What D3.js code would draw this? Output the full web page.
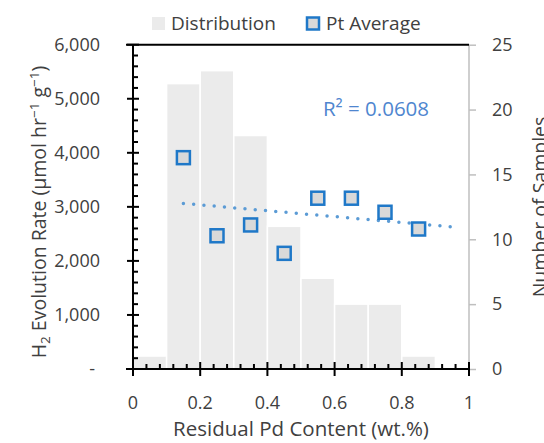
<!DOCTYPE html>
<html><head><meta charset="utf-8">
<script src="https://cdn.jsdelivr.net/npm/d3@7"></script>
<style>body{margin:0;background:#fff}svg{display:block}text{font-family:"Open Sans","Liberation Sans",sans-serif;fill:#404040}</style>
</head><body><svg id="c" width="544" height="443"></svg>
<script>
const binStarts = [0, 0.1, 0.2, 0.3, 0.4, 0.5, 0.6, 0.7, 0.8];
const binCounts = [1, 22, 23, 18, 11, 7, 5, 5, 1];
const ptX = [0.15, 0.25, 0.35, 0.45, 0.55, 0.65, 0.75, 0.85];
const ptRate = [3910, 2465, 2665, 2140, 3160, 3160, 2900, 2590];
const leftTicks = [0, 1000, 2000, 3000, 4000, 5000, 6000];
const rightTicks = [0, 5, 10, 15, 20, 25];
const xTicks = [0, 0.2, 0.4, 0.6, 0.8, 1];
const r2Label = "R² = 0.0608";

const svg = d3.select("#c");
const L = 133, R = 469, T = 44.7, B = 369;
const x = d3.scaleLinear().domain([0, 1]).range([L, R]);
const yL = d3.scaleLinear().domain([0, 6000]).range([B, T]);
const yR = d3.scaleLinear().domain([0, 25]).range([B, T]);
const tickFS = 18, legFS = 19, titleFS = 20.5, yTitleFS = 19.5;

// bars
svg.append("g").selectAll("rect").data(binStarts).join("rect")
  .attr("x", d => x(d)).attr("width", d => x(d + 0.1) - x(d))
  .attr("y", (d, i) => yR(binCounts[i])).attr("height", (d, i) => B - yR(binCounts[i]))
  .attr("fill", "#ebebeb").attr("stroke", "#fff").attr("stroke-width", 1.5);

// right axis
const gR = svg.append("g").attr("transform", `translate(${R},0)`)
  .call(d3.axisRight(yR).tickValues(rightTicks).tickSize(7).tickPadding(16).tickFormat(d3.format("d")));
gR.selectAll("path,line").attr("stroke", "#bfbfbf").attr("stroke-width", 1.5);
gR.select(".domain").attr("d", `M0,${T}V${B}`);
gR.selectAll("text").attr("font-size", tickFS).attr("fill", "#404040").style("font-family", "Open Sans");

// top line
svg.append("line").attr("x1", L - 7).attr("x2", R).attr("y1", T).attr("y2", T)
  .attr("stroke", "#000").attr("stroke-width", 2);

// left axis
const gL = svg.append("g").attr("transform", `translate(${L},0)`);
gL.append("line").attr("y1", T).attr("y2", B + 7).attr("stroke", "#000").attr("stroke-width", 2);
gL.selectAll(".minor").data(d3.range(0, 6001, 200).filter(v => v % 1000 !== 0)).join("line")
  .attr("x1", 0).attr("x2", 5).attr("y1", d => yL(d)).attr("y2", d => yL(d))
  .attr("stroke", "#000").attr("stroke-width", 2);
gL.selectAll(".major").data(leftTicks).join("line")
  .attr("x1", -6).attr("x2", 6).attr("y1", d => yL(d)).attr("y2", d => yL(d))
  .attr("stroke", "#000").attr("stroke-width", 2);
const fmt = d3.format(",");
gL.selectAll("text").data(leftTicks).join("text")
  .attr("x", d => d === 0 ? -38 : -33).attr("y", d => yL(d)).attr("dy", "0.35em")
  .attr("text-anchor", "end").attr("font-size", tickFS)
  .text(d => d === 0 ? "-" : fmt(d));

// x axis
const gX = svg.append("g").attr("transform", `translate(0,${B})`);
gX.append("line").attr("x1", L - 7).attr("x2", R).attr("stroke", "#000").attr("stroke-width", 2);
gX.selectAll(".minor").data(d3.range(0, 26).map(i => i * 0.04).filter((v, i) => i % 5 !== 0)).join("line")
  .attr("x1", d => x(d)).attr("x2", d => x(d)).attr("y1", 0).attr("y2", -5)
  .attr("stroke", "#000").attr("stroke-width", 2);
gX.selectAll(".major").data(xTicks).join("line")
  .attr("x1", d => x(d)).attr("x2", d => x(d)).attr("y1", -7).attr("y2", 7)
  .attr("stroke", "#000").attr("stroke-width", 2);
gX.selectAll("text").data(xTicks).join("text")
  .attr("x", d => x(d)).attr("y", 40).attr("text-anchor", "middle").attr("font-size", tickFS)
  .text(d => d3.format("~g")(d));

// trendline (linear regression)
const mx = d3.mean(ptX), my = d3.mean(ptRate);
const slope = d3.sum(ptX, (v, i) => (v - mx) * (ptRate[i] - my)) / d3.sum(ptX, v => (v - mx) ** 2);
const icpt = my - slope * mx;
const tx0 = ptX[0], tx1 = ptX[ptX.length - 1] + 0.1;
svg.append("line")
  .attr("x1", x(tx0)).attr("y1", yL(icpt + slope * tx0))
  .attr("x2", x(tx1)).attr("y2", yL(icpt + slope * tx1))
  .attr("stroke", "#5b9bd5").attr("stroke-width", 3.5).attr("stroke-linecap", "round")
  .attr("stroke-dasharray", "0 10.3");

// points
svg.append("g").selectAll("rect").data(ptX).join("rect")
  .attr("x", d => x(d) - 6.5).attr("y", (d, i) => yL(ptRate[i]) - 6.5)
  .attr("width", 13).attr("height", 13)
  .attr("fill", "#d9d9d9").attr("stroke", "#1f78c8").attr("stroke-width", 2.5);

// R2 label
svg.append("text").attr("x", 376).attr("y", 116).attr("text-anchor", "middle")
  .attr("font-size", titleFS).style("fill", "#4f86cf").text(r2Label);

// axis titles
svg.append("text").attr("x", x(0.5)).attr("y", 436).attr("text-anchor", "middle")
  .attr("font-size", titleFS).text("Residual Pd Content (wt.%)");
const yt = svg.append("text").attr("transform", "translate(46,212) rotate(-90)")
  .attr("text-anchor", "middle").attr("font-size", yTitleFS);
yt.append("tspan").text("H");
yt.append("tspan").attr("font-size", 13.5).attr("dy", 4).text("2");
yt.append("tspan").attr("dy", -4).text(" Evolution Rate (µmol hr");
yt.append("tspan").attr("font-size", 13.5).attr("dy", -7).text("−1");
yt.append("tspan").attr("dy", 7).text(" g");
yt.append("tspan").attr("font-size", 13.5).attr("dy", -7).text("−1");
yt.append("tspan").attr("dy", 7).text(")");
svg.append("text").attr("transform", "translate(547,207) rotate(-90)")
  .attr("text-anchor", "middle").attr("font-size", yTitleFS).text("Number of Samples");

// legend
const lg = svg.append("g");
lg.append("rect").attr("x", 152).attr("y", 17).attr("width", 13).attr("height", 13).attr("fill", "#ebebeb");
lg.append("text").attr("x", 171).attr("y", 30).attr("font-size", legFS).text("Distribution");
lg.append("rect").attr("x", 307).attr("y", 17.5).attr("width", 12).attr("height", 12)
  .attr("fill", "#d9d9d9").attr("stroke", "#1f78c8").attr("stroke-width", 2.5);
lg.append("text").attr("x", 326).attr("y", 30).attr("font-size", legFS).text("Pt Average");
</script></body></html>
